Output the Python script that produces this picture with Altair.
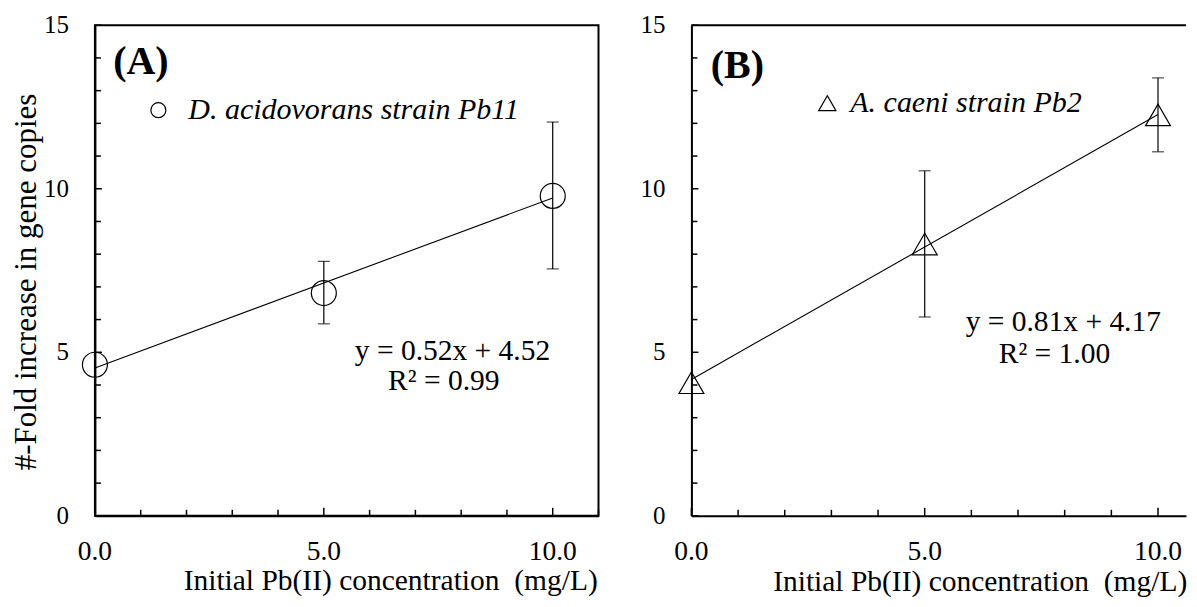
import altair as alt
import pandas as pd

FONT = "Liberation Serif"

# ---------------- data ----------------
# Panel A : D. acidovorans strain Pb11
a_x = [0, 5, 10]
a_y = [4.62, 6.81, 9.78]
a_err_x = [5, 10]
a_err_lo = [5.87, 7.55]
a_err_hi = [7.78, 12.04]
a_fit_x = [0, 10]
a_fit_y = [4.52, 9.72]
a_series = "D. acidovorans strain Pb11"
a_eq_text = ["y = 0.52x + 4.52", "R² = 0.99"]
a_eq_x = [7.81, 7.62]
a_eq_y = [5.04, 4.12]

# Panel B : A. caeni strain Pb2
b_x = [0, 5, 10]
b_y = [4.07, 8.31, 12.26]
b_err_x = [5, 10]
b_err_lo = [6.08, 11.13]
b_err_hi = [10.55, 13.39]
b_fit_x = [0, 10]
b_fit_y = [4.17, 12.27]
b_series = "A. caeni strain Pb2"
b_eq_text = ["y = 0.81x + 4.17", "R² = 1.00"]
b_eq_x = [7.97, 7.78]
b_eq_y = [5.93, 4.95]

# axis ticks / labels
x_labels = [0, 5, 10]
x_minor_a = [1, 2, 3, 4, 6, 7, 8, 9, 11]
x_minor_b = [1, 2, 3, 4, 6, 7, 8, 9]
y_labels = [0, 5, 10, 15]
y_minor = [1, 2, 3, 4, 6, 7, 8, 9, 11, 12, 13, 14]

X_TITLE = "Initial Pb(II) concentration\u00a0 (mg/L)"
Y_TITLE = "#-Fold increase in gene copies"

H = 491


def panel(px, py, ex, elo, ehi, fx, fy, series, shape, eqt, eqx, eqy,
          label, xminor, xmax, width, show_ytitle, title_x, title_y,
          leg_x, leg_y, leg_size, leg_offset, pt_size, label_xy, frame):
    xs = alt.Scale(domain=[0, xmax], nice=False, zero=False)
    ys = alt.Scale(domain=[0, 15], nice=False, zero=False)
    axis_kw = dict(labels=False, ticks=False, tickSize=0, grid=False,
                   domainWidth=2, domainColor="black", title="")
    xaxis = alt.Axis(values=x_labels, **axis_kw)
    yaxis = alt.Axis(values=y_labels, **axis_kw)

    X = lambda f: alt.X(f, scale=xs, axis=xaxis)
    Y = lambda f: alt.Y(f, scale=ys, axis=yaxis)

    pts = pd.DataFrame({"x": px, "y": py, "series": [series] * len(px)})
    err = pd.DataFrame({"x": ex, "lo": elo, "hi": ehi})
    caps = pd.DataFrame({"x": ex + ex, "y": elo + ehi})
    fit = pd.DataFrame({"x": fx, "y": fy})
    eq = pd.DataFrame({"x": eqx, "y": eqy, "t": eqt})
    xmaj = pd.DataFrame({"x": x_labels})
    xmin = pd.DataFrame({"x": xminor})
    ymaj = pd.DataFrame({"y": y_labels})
    ymin = pd.DataFrame({"y": y_minor})

    layers = []
    layers.append(alt.Chart(fit).mark_line(color="black", strokeWidth=1.1)
                  .encode(x=X("x:Q"), y=Y("y:Q")))
    layers.append(alt.Chart(err).mark_rule(color="black", strokeWidth=1.2)
                  .encode(x=X("x:Q"), y=Y("lo:Q"), y2="hi:Q"))
    layers.append(alt.Chart(caps).mark_tick(color="black", orient="horizontal",
                                            size=12, thickness=1.2)
                  .encode(x=X("x:Q"), y=Y("y:Q")))
    layers.append(alt.Chart(pts).mark_point(filled=False, size=pt_size,
                                            strokeWidth=1.2, color="black",
                                            opacity=1)
                  .encode(x=X("x:Q"), y=Y("y:Q"),
                          shape=alt.Shape("series:N",
                                          scale=alt.Scale(domain=[series], range=[shape]),
                                          legend=alt.Legend(
                                              orient="none", legendX=leg_x, legendY=leg_y,
                                              title=None, padding=0,
                                              symbolSize=leg_size,
                                              symbolStrokeColor="black",
                                              symbolFillColor="transparent",
                                              symbolStrokeWidth=1.2,
                                              labelFont=FONT, labelFontSize=30,
                                              labelFontStyle="italic",
                                              labelColor="black",
                                              labelOffset=leg_offset,
                                              labelLimit=1000))))
    layers.append(alt.Chart(eq).mark_text(font=FONT, fontSize=29.5, color="black",
                                          align="center", baseline="middle")
                  .encode(x=X("x:Q"), y=Y("y:Q"), text="t:N"))
    # inward axis ticks
    layers.append(alt.Chart(xmaj).mark_rule(color="black", strokeWidth=1.5)
                  .encode(x=X("x:Q"), y=alt.value(H), y2=alt.value(H - 8)))
    layers.append(alt.Chart(xmin).mark_rule(color="black", strokeWidth=1.5)
                  .encode(x=X("x:Q"), y=alt.value(H), y2=alt.value(H - 6)))
    layers.append(alt.Chart(ymaj).mark_rule(color="black", strokeWidth=1.5)
                  .encode(y=Y("y:Q"), x=alt.value(0), x2=alt.value(7)))
    layers.append(alt.Chart(ymin).mark_rule(color="black", strokeWidth=1.5)
                  .encode(y=Y("y:Q"), x=alt.value(0), x2=alt.value(6)))
    # tick labels (as text)
    layers.append(alt.Chart(xmaj).mark_text(font=FONT, fontSize=27.5, color="black",
                                            align="center", baseline="middle")
                  .encode(x=X("x:Q"), y=alt.value(H + 36),
                          text=alt.Text("x:Q", format=".1f")))
    layers.append(alt.Chart(ymaj).mark_text(font=FONT, fontSize=25, color="black",
                                            align="right", baseline="middle")
                  .encode(y=Y("y:Q"), x=alt.value(-26),
                          text=alt.Text("y:Q", format="d")))
    # axis titles
    layers.append(alt.Chart(pd.DataFrame({"t": [X_TITLE]}))
                  .mark_text(font=FONT, fontSize=29.5, color="black",
                             align="center", baseline="middle")
                  .encode(text="t:N", x=alt.value(title_x), y=alt.value(H + title_y)))
    if show_ytitle:
        layers.append(alt.Chart(pd.DataFrame({"t": [Y_TITLE]}))
                      .mark_text(font=FONT, fontSize=31, color="black",
                                 align="center", baseline="middle", angle=270)
                      .encode(text="t:N", x=alt.value(-68), y=alt.value(257)))
    # panel label
    layers.append(alt.Chart(pd.DataFrame({"t": [label]}))
                  .mark_text(font=FONT, fontSize=40, fontWeight="bold",
                             color="black", align="center", baseline="middle")
                  .encode(text="t:N", x=alt.value(label_xy[0]), y=alt.value(label_xy[1])))
    if not frame:
        layers.append(alt.Chart(pd.DataFrame({"t": [0]}))
                      .mark_rule(color="black", strokeWidth=2)
                      .encode(y=alt.value(0), x=alt.value(0), x2=alt.value(width)))

    ch = alt.layer(*layers).properties(width=width, height=H)
    if not frame:
        ch = ch.properties(view=alt.ViewBackground(stroke="transparent"))
    return ch


pa = panel(a_x, a_y, a_err_x, a_err_lo, a_err_hi, a_fit_x, a_fit_y, a_series,
           "circle", a_eq_text, a_eq_x, a_eq_y, "(A)", x_minor_a, 11.0, 504,
           True, 296, 65, 48.5, 70, 225, 15, 625, (46, 37), True)
pb = panel(b_x, b_y, b_err_x, b_err_lo, b_err_hi, b_fit_x, b_fit_y, b_series,
           "triangle-up", b_eq_text, b_eq_x, b_eq_y, "(B)", x_minor_b, 10.6, 495,
           False, 289, 66, 121, 63, 300, 8, 620, (46, 41), False)

chart = (alt.hconcat(pa, pb, spacing=93, bounds="flush")
         .resolve_scale(shape="independent")
         .configure(font=FONT)
         .configure_view(stroke="black", strokeWidth=2)
         .properties(padding={"left": 1, "top": 4, "right": 0, "bottom": 0},
                     background="white"))

chart.save("out.html", embed_options={"renderer": "svg", "actions": False})
